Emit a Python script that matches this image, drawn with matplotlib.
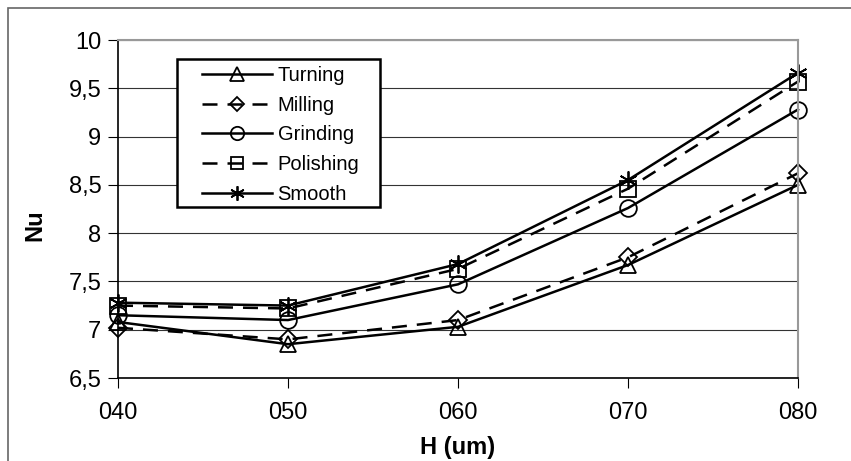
import matplotlib
matplotlib.use("Agg")
import matplotlib.pyplot as plt
from matplotlib.patches import Rectangle

plt.rcParams['font.family'] = ['Liberation Sans', 'DejaVu Sans']

h_labels = ["040", "050", "060", "070", "080"]
turning = [7.08, 6.85, 7.03, 7.67, 8.50]
milling = [7.02, 6.90, 7.10, 7.75, 8.62]
grinding = [7.15, 7.10, 7.47, 8.26, 9.28]
polishing = [7.25, 7.22, 7.63, 8.46, 9.57]
smooth = [7.28, 7.25, 7.68, 8.55, 9.66]
y_ticks = [6.5, 7, 7.5, 8, 8.5, 9, 9.5, 10]

W, H = 851, 461
fig = plt.figure(figsize=(W / 100, H / 100), dpi=100)
fig.patches.append(Rectangle((8 / W, -0.1), 1.2, 1 - 8 / H + 0.1,
                             transform=fig.transFigure, fill=False,
                             edgecolor="#666666", linewidth=1.2))

ax = fig.add_axes([118 / W, 1 - 378 / H, 680 / W, 338 / H])
x = list(range(len(h_labels)))

series = [
    ("Turning", turning, "-", "^", 12),
    ("Milling", milling, (0, (6, 4)), "D", 9.5),
    ("Grinding", grinding, "-", "o", 12),
    ("Polishing", polishing, (0, (6, 4)), "s", 11.5),
    ("Smooth", smooth, "-", (6, 2, 0), 13),
]
for name, vals, ls, mk, ms in series:
    ax.plot(x, vals, color="black", linestyle=ls, linewidth=1.8, marker=mk,
            markersize=ms, markerfacecolor="none", markeredgecolor="black",
            markeredgewidth=1.3, label=name, clip_on=False)

ax.set_xlim(0, 4)
ax.set_ylim(6.5, 10)
ax.set_xticks(x)
ax.set_xticklabels(h_labels, fontsize=17)
ax.set_yticks(y_ticks)
ax.set_yticklabels([("%g" % v).replace(".", ",") for v in y_ticks], fontsize=17)
ax.tick_params(axis="y", direction="out", length=7, pad=5)
ax.tick_params(axis="x", direction="out", length=7, pad=10)
ax.yaxis.grid(True, color="#333333", linewidth=0.8)
ax.set_axisbelow(True)
for side in ("top", "right"):
    ax.spines[side].set_color("#999999")
    ax.spines[side].set_linewidth(1.5)
for side in ("left", "bottom"):
    ax.spines[side].set_color("black")
    ax.spines[side].set_linewidth(1.2)

ax.set_xlabel("H (um)", fontsize=17, fontweight="bold", va="center")
ax.xaxis.set_label_coords(0.5, (378 - 447) / 338)
ax.set_ylabel("Nu", fontsize=17, fontweight="bold", va="center")
ax.yaxis.set_label_coords((35 - 118) / 680, (378 - 225) / 338)

# legend frame (box drawn separately so the side padding can be wider than the top)
ax.add_patch(Rectangle((177 / W, 1 - 207 / H), 203 / W, 148 / H,
                       transform=fig.transFigure, facecolor="white",
                       edgecolor="black", linewidth=1.8, zorder=4, clip_on=False))
leg = ax.legend(loc="upper left", bbox_to_anchor=(202 / W, 1 - 66 / H),
                bbox_transform=fig.transFigure, frameon=False, fontsize=14.5,
                handlelength=3.5, borderpad=0, labelspacing=0.53,
                handletextpad=0.25, borderaxespad=0, markerscale=0.8)
leg.set_zorder(5)

fig.savefig("out.png", dpi=100)
